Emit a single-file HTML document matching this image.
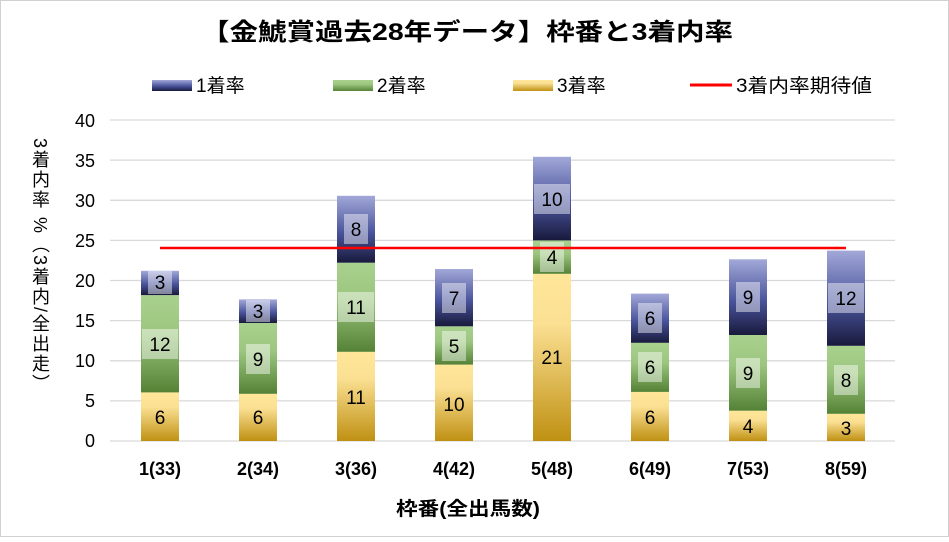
<!DOCTYPE html>
<html><head><meta charset="utf-8"><style>
body{margin:0;background:#fff}
svg text{font-family:"Liberation Sans","Noto Sans CJK JP",sans-serif}
</style></head><body>
<svg width="949" height="537" viewBox="0 0 949 537" xmlns="http://www.w3.org/2000/svg">
<defs>
<linearGradient id="g1" x1="0" y1="0" x2="0" y2="1"><stop offset="0" stop-color="#a2a8d8"/><stop offset="0.55" stop-color="#4a549c"/><stop offset="1" stop-color="#181a3c"/></linearGradient>
<linearGradient id="g2" x1="0" y1="0" x2="0" y2="1"><stop offset="0" stop-color="#a9d18e"/><stop offset="0.4" stop-color="#9cc67f"/><stop offset="1" stop-color="#548235"/></linearGradient>
<linearGradient id="g3" x1="0" y1="0" x2="0" y2="1"><stop offset="0" stop-color="#ffe699"/><stop offset="0.3" stop-color="#fbe093"/><stop offset="1" stop-color="#bf9012"/></linearGradient>
</defs>
<rect x="0.5" y="0.5" width="948" height="536" fill="#fff" stroke="#d0d0d0"/>
<text x="467" y="40" font-size="24" font-weight="bold" text-anchor="middle" fill="#000" textLength="532" lengthAdjust="spacingAndGlyphs">【金鯱賞過去28年データ】枠番と3着内率</text>
<!-- legend -->
<rect x="152" y="80" width="40" height="11" fill="url(#g1)"/><text x="196" y="92" font-size="19">1着率</text>
<rect x="333" y="80" width="40" height="11" fill="url(#g2)"/><text x="377" y="92" font-size="19">2着率</text>
<rect x="513" y="80" width="40" height="11" fill="url(#g3)"/><text x="557" y="92" font-size="19">3着率</text>
<line x1="690" y1="85" x2="732" y2="85" stroke="#f00" stroke-width="3"/><text x="736" y="92" font-size="19" textLength="136" lengthAdjust="spacingAndGlyphs">3着内率期待値</text>
<!-- grid -->
<g stroke="#d9d9d9" stroke-width="1.3">
<line x1="110" y1="120" x2="895" y2="120"/><line x1="110" y1="160.1" x2="895" y2="160.1"/><line x1="110" y1="200.3" x2="895" y2="200.3"/><line x1="110" y1="240.4" x2="895" y2="240.4"/><line x1="110" y1="280.5" x2="895" y2="280.5"/><line x1="110" y1="320.6" x2="895" y2="320.6"/><line x1="110" y1="360.8" x2="895" y2="360.8"/><line x1="110" y1="400.9" x2="895" y2="400.9"/><line x1="110" y1="441" x2="895" y2="441"/>
</g>
<g font-size="18" text-anchor="end" fill="#000">
<text x="95" y="127">40</text><text x="95" y="167">35</text><text x="95" y="207">30</text><text x="95" y="247">25</text><text x="95" y="287">20</text><text x="95" y="327">15</text><text x="95" y="367">10</text><text x="95" y="407">5</text><text x="95" y="447">0</text>
</g>
<text x="40" y="138" font-size="18" letter-spacing="2" style="writing-mode:vertical-rl" fill="#000">3着内率 %（3着内/全出走）</text>
<!-- bars -->
<g>
<rect x="141" y="392.4" width="38" height="48.6" fill="url(#g3)"/><rect x="141" y="295.1" width="38" height="97.3" fill="url(#g2)"/><rect x="141" y="270.8" width="38" height="24.3" fill="url(#g1)"/>
<rect x="239" y="393.8" width="38" height="47.2" fill="url(#g3)"/><rect x="239" y="323" width="38" height="70.8" fill="url(#g2)"/><rect x="239" y="299.4" width="38" height="23.6" fill="url(#g1)"/>
<rect x="337" y="351.8" width="38" height="89.2" fill="url(#g3)"/><rect x="337" y="262.7" width="38" height="89.1" fill="url(#g2)"/><rect x="337" y="195.8" width="38" height="66.9" fill="url(#g1)"/>
<rect x="435" y="364.6" width="38" height="76.4" fill="url(#g3)"/><rect x="435" y="326.3" width="38" height="38.3" fill="url(#g2)"/><rect x="435" y="269" width="38" height="57.3" fill="url(#g1)"/>
<rect x="533" y="273.8" width="38" height="167.2" fill="url(#g3)"/><rect x="533" y="240.4" width="38" height="33.4" fill="url(#g2)"/><rect x="533" y="156.8" width="38" height="83.6" fill="url(#g1)"/>
<rect x="631" y="391.9" width="38" height="49.1" fill="url(#g3)"/><rect x="631" y="342.8" width="38" height="49.1" fill="url(#g2)"/><rect x="631" y="293.6" width="38" height="49.2" fill="url(#g1)"/>
<rect x="729" y="410.7" width="38" height="30.3" fill="url(#g3)"/><rect x="729" y="335" width="38" height="75.7" fill="url(#g2)"/><rect x="729" y="259.3" width="38" height="75.7" fill="url(#g1)"/>
<rect x="827" y="413.8" width="38" height="27.2" fill="url(#g3)"/><rect x="827" y="345.8" width="38" height="68" fill="url(#g2)"/><rect x="827" y="250.6" width="38" height="95.2" fill="url(#g1)"/>
</g>
<!-- label boxes -->
<g fill="#fff" fill-opacity="0.45">
<rect x="148" y="271" width="24" height="23"/><rect x="142" y="329" width="36" height="30"/>
<rect x="246" y="300" width="24" height="22"/><rect x="246" y="344" width="24" height="30"/>
<rect x="344" y="214" width="24" height="30"/><rect x="338" y="292" width="36" height="30"/>
<rect x="442" y="283" width="24" height="30"/><rect x="442" y="331" width="24" height="30"/>
<rect x="534" y="184" width="36" height="30"/><rect x="540" y="242" width="24" height="30"/>
<rect x="638" y="303" width="24" height="30"/><rect x="638" y="352" width="24" height="30"/>
<rect x="736" y="282" width="24" height="30"/><rect x="736" y="358" width="24" height="30"/>
<rect x="828" y="283" width="36" height="30"/><rect x="834" y="365" width="24" height="30"/>
</g>
<g font-size="19" text-anchor="middle" fill="#000">
<text x="160" y="424">6</text><text x="160" y="351">12</text><text x="160" y="289">3</text>
<text x="258" y="424">6</text><text x="258" y="366">9</text><text x="258" y="318">3</text>
<text x="356" y="404">11</text><text x="356" y="314">11</text><text x="356" y="236">8</text>
<text x="454" y="411">10</text><text x="454" y="353">5</text><text x="454" y="305">7</text>
<text x="552" y="364">21</text><text x="552" y="264">4</text><text x="552" y="206">10</text>
<text x="650" y="424">6</text><text x="650" y="374">6</text><text x="650" y="325">6</text>
<text x="748" y="433">4</text><text x="748" y="380">9</text><text x="748" y="304">9</text>
<text x="846" y="435">3</text><text x="846" y="387">8</text><text x="846" y="305">12</text>
</g>
<line x1="160" y1="248" x2="846" y2="248" stroke="#f00" stroke-width="2.5"/>
<g font-size="18" font-weight="bold" text-anchor="middle" fill="#000">
<text x="160" y="475">1(33)</text><text x="258" y="475">2(34)</text><text x="356" y="475">3(36)</text><text x="454" y="475">4(42)</text><text x="552" y="475">5(48)</text><text x="650" y="475">6(49)</text><text x="748" y="475">7(53)</text><text x="846" y="475">8(59)</text>
</g>
<text x="468" y="515" font-size="19" font-weight="bold" text-anchor="middle" fill="#000" textLength="144" lengthAdjust="spacingAndGlyphs">枠番(全出馬数)</text>
</svg>
</body></html>
